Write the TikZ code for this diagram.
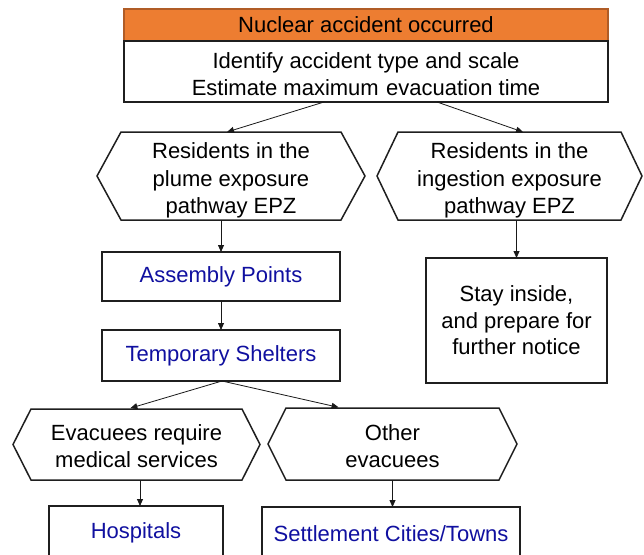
\documentclass[tikz,border=0pt]{standalone}
\usepackage{fontspec}
\setmainfont{Liberation Sans}
\usetikzlibrary{arrows.meta,calc}
\definecolor{orng}{RGB}{237,125,49}
\definecolor{orngdark}{RGB}{176,92,38}
\definecolor{txtblue}{RGB}{16,16,160}
\tikzset{
  base/.style={font=\fontsize{22}{26.5}\selectfont, align=center, inner sep=0pt, outer sep=0pt},
  box/.style={base, draw=black!88, line width=1.5pt, fill=white},
  hexnode/.style={inner sep=0pt, outer sep=0pt},
  hextext/.style={base, font=\fontsize{22}{27.5}\selectfont},
  hexline/.style={draw=black!88, line width=1.5pt, line join=miter},
  conn/.style={-{Triangle[length=7pt,width=6pt]}, line width=0.8pt, draw=black!90},
  bluetxt/.style={text=txtblue}
}
\newcommand{\hexdraw}[2]{\draw[hexline] (#1.west) -- ([xshift=#2]#1.north west) -- ([xshift=-#2]#1.north east) -- (#1.east) -- ([xshift=-#2]#1.south east) -- ([xshift=#2]#1.south west) -- cycle;}
\begin{document}
\begin{tikzpicture}[x=1pt,y=-1pt]
\useasboundingbox (0,0) rectangle (644,554);
\clip (0,0) rectangle (644,554);
\fill[white] (0,0) rectangle (644,554);

\node[box, fill=orng, draw=orngdark, minimum width=484pt, minimum height=32pt] (top) at (366,25) {Nuclear accident occurred};
\node[box, minimum width=484pt, minimum height=61pt] (ident) at (366,71.5) {};
\node[base] (identt) at ([yshift=-2.5pt]ident.center) {Identify accident type and scale\\Estimate maximum\,\,evacuation time};

\node[hexnode, minimum width=268pt, minimum height=88pt] (h1) at (231,176) {};
\hexdraw{h1}{24pt}
\node[hextext] (h1t) at ([yshift=-4.5pt]h1.center) {Residents in the\\plume exposure\\pathway EPZ};
\node[hexnode, minimum width=265pt, minimum height=88pt] (h2) at (509.5,176) {};
\hexdraw{h2}{21pt}
\node[hextext] (h2t) at ([yshift=-4.5pt]h2.center) {Residents in the\\ingestion exposure\\pathway EPZ};

\node[box, bluetxt, minimum width=238pt, minimum height=49pt] (asm) at (221,276.5) {Assembly Points};
\node[box, bluetxt, minimum width=238pt, minimum height=51pt] (tmp) at (221,355.5) {Temporary Shelters};
\node[box, minimum width=181pt, minimum height=125pt] (stay) at (516.5,320.5) {Stay inside,\\and prepare for\\further notice};

\node[hexnode, minimum width=247pt, minimum height=71pt] (h3) at (136.5,444.5) {};
\hexdraw{h3}{18pt}
\node[hextext] (h3t) at ([yshift=-1.5pt]h3.center) {Evacuees require\\medical services};
\node[hexnode, minimum width=249pt, minimum height=72pt] (h4) at (392.5,444) {};
\hexdraw{h4}{18pt}
\node[hextext] (h4t) at ([yshift=-2pt]h4.center) {Other\\evacuees};

\node[box, bluetxt, minimum width=174pt, minimum height=54pt] (hosp) at (136,533) {Hospitals};
\node[box, bluetxt, minimum width=258pt, minimum height=53pt] (sett) at (391,533.5) {Settlement Cities/Towns};

\draw[conn] ([xshift=-42pt]ident.south) -- ([xshift=-4pt]h1.north);
\draw[conn] ([xshift=71pt]ident.south) -- ([xshift=13.5pt]h2.north);
\draw[conn] (h1.south -| asm.north) -- (asm.north);
\draw[conn] (asm.south) -- (tmp.north);
\draw[conn] (h2.south -| stay.north) -- (stay.north);
\draw[conn, shorten >=3pt] ([xshift=1pt]tmp.south) -- ([xshift=-9pt]h3.north);
\draw[conn, shorten >=3pt] ([xshift=1pt]tmp.south) -- ([xshift=-51pt]h4.north);
\draw[conn] ([xshift=3.5pt]h3.south) -- ([xshift=3.5pt]h3.south |- hosp.north);
\draw[conn] (h4.south) -- (h4.south |- sett.north);
\end{tikzpicture}
\end{document}
